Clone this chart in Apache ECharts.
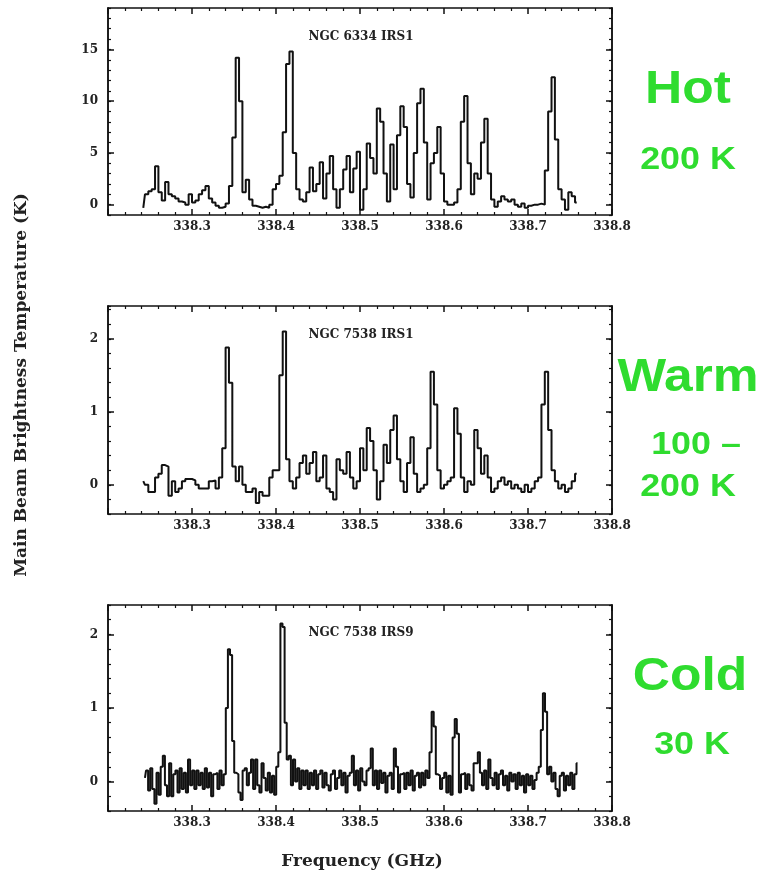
<!DOCTYPE html>
<html><head><meta charset="utf-8">
<script src="https://cdn.jsdelivr.net/npm/echarts@6/dist/echarts.min.js"></script>
<style>html,body{margin:0;padding:0;background:#fff}#c{width:776px;height:885px}</style>
</head><body><div id="c"></div>
<script>
// ---------- DATA ----------
const xTickLabels = ['338.3', '338.4', '338.5', '338.6', '338.7', '338.8'];
const panelNames = ['NGC 6334 IRS1', 'NGC 7538 IRS1', 'NGC 7538 IRS9'];
const hotYTicks = [0, 5, 10, 15];
const warmYTicks = [0, 1, 2];
const coldYTicks = [0, 1, 2];

// channel grid (GHz): first channel and channel width
const hotStart = 338.242, hotWidth = 0.004;
const warmStart = 338.242, warmWidth = 0.004;
const coldStart = 338.244, coldWidth = 0.0025;

// NGC 6334 IRS1 (K)
const hotValues = [
  -0.3, 1.0, 1.3, 1.5, 3.7, 1.2, 0.4, 2.2, 1.0, 0.8,
  0.6, 0.3, 0.2, 0.0, 1.0, 0.2, 0.4, 1.0, 1.4, 1.8,
  0.6, 0.2, -0.1, -0.3, -0.2, 0.1, 1.8, 6.5, 14.2, 10.0,
  1.2, 2.4, 0.5, -0.1, -0.2, -0.3, -0.2, -0.3, 0.0, 1.5,
  2.0, 2.8, 7.0, 13.6, 14.8, 5.0, 1.5, 0.5, 0.3, 1.2,
  3.6, 1.3, 2.0, 4.1, 0.6, 3.0, 4.7, 1.5, -0.3, 1.5,
  3.4, 4.7, 1.2, 3.5, 5.1, -0.5, 1.5, 5.9, 4.5, 3.0,
  9.3, 8.0, 3.0, 0.3, 5.8, 1.5, 6.7, 9.5, 7.5, 2.0,
  0.7, 5.0, 9.8, 11.2, 6.0, 0.5, 4.0, 5.0, 7.5, 3.0,
  0.3, 0.0, 0.0, 0.2, 1.5, 8.0, 10.5, 4.0, 1.0, 3.0,
  2.5, 6.0, 8.3, 3.0, 0.5, -0.2, 0.3, 0.8, 0.5, 0.3,
  0.5, 0.0, -0.2, 0.1, -0.3, -0.1, 0.0, 0.0, 0.1, 0.0,
  3.3, 9.0, 12.3, 6.3, 1.5, 0.5, -0.5, 1.2, 0.8, 0.2
];

// NGC 7538 IRS1 (K)
const warmValues = [
  0.05, 0.0, -0.1, -0.1, 0.1, 0.15, 0.27, 0.25, -0.15, 0.05,
  -0.1, -0.05, 0.05, 0.08, 0.08, 0.06, 0.0, -0.05, -0.05, -0.05,
  0.05, 0.06, -0.05, 0.1, 0.5, 1.88, 1.4, 0.25, 0.05, 0.25,
  0.0, -0.1, -0.1, -0.05, -0.25, -0.1, -0.15, -0.15, 0.1, 0.2,
  0.2, 1.5, 2.1, 0.35, 0.05, -0.05, 0.1, 0.3, 0.4, 0.15,
  0.3, 0.45, 0.05, 0.1, 0.4, -0.05, -0.1, -0.2, 0.35, 0.2,
  0.15, 0.45, 0.1, -0.05, 0.05, 0.5, 0.2, 0.78, 0.6, 0.2,
  -0.2, 0.05, 0.55, 0.3, 0.75, 0.95, 0.35, 0.05, -0.1, 0.3,
  0.65, 0.15, -0.1, -0.05, 0.0, 0.5, 1.55, 1.1, 0.2, -0.05,
  0.0, 0.05, 0.1, 1.05, 0.7, 0.1, -0.1, 0.05, 0.0, 0.75,
  0.5, 0.15, 0.4, 0.1, -0.1, -0.05, 0.05, 0.1, 0.0, 0.05,
  -0.05, 0.0, -0.05, -0.1, 0.0, -0.1, -0.05, 0.05, 0.1, 1.1,
  1.55, 0.75, 0.2, 0.05, -0.05, 0.0, -0.1, -0.05, 0.05, 0.15
];

// NGC 7538 IRS9 (K)
const coldValues = [
  0.05, 0.15, -0.12, 0.18, -0.1, -0.3, 0.12, -0.18, 0.2, 0.35,
  -0.05, -0.2, 0.25, -0.2, 0.1, 0.15, -0.15, 0.18, -0.1, 0.12,
  -0.15, 0.3, -0.05, 0.15, -0.1, 0.15, -0.05, 0.12, -0.1, 0.18,
  -0.08, 0.12, -0.2, 0.1, 0.12, -0.1, 0.15, -0.05, 0.1,
  1.0, 1.8, 1.72, 0.55, 0.12,
  0.1, -0.15, -0.25, 0.15, 0.18, -0.05,
  0.12, 0.3, -0.1, 0.3, -0.05, -0.15, 0.25, 0.05, -0.12, 0.12,
  -0.15, 0.08, -0.18, 0.2, 0.4,
  2.15, 2.1, 0.8, 0.3,
  0.35, -0.05, 0.3, 0.0, 0.18, -0.1, 0.15, -0.05, 0.15, -0.1, 0.12,
  -0.05, 0.15, -0.1, 0.1, 0.15, -0.08, 0.12, -0.05, -0.12, 0.1,
  0.15, -0.1, 0.05, 0.15, -0.05, 0.12, -0.15, 0.08, 0.12,
  0.35,
  -0.05, 0.15, -0.12, 0.18, 0.0, -0.05, 0.15, 0.18,
  0.45,
  -0.05, 0.15, -0.1, 0.15, -0.02, 0.12, -0.15, 0.08, 0.12, -0.1,
  0.45,
  0.2, -0.15, 0.1, 0.12, -0.1, 0.12, -0.05, 0.15, -0.12, 0.08, 0.12, -0.08, 0.12, -0.05, 0.15, 0.05,
  0.4, 0.95, 0.75, 0.1,
  0.08, -0.1, 0.05, 0.12, -0.15, 0.08, -0.18,
  0.6, 0.85, 0.65, -0.15,
  0.1, 0.12, -0.1, 0.1, -0.05, -0.12, 0.25,
  0.25, 0.4,
  0.12, -0.05, 0.15, -0.1, 0.3, 0.05, -0.05, 0.12, -0.1, 0.1,
  0.15, -0.05, 0.08, -0.12, 0.12, 0.0, 0.1, -0.1, 0.12, -0.05,
  0.08, -0.15, 0.1, -0.05, 0.08, -0.1, 0.02, 0.12,
  0.2, 0.7, 1.2, 0.95, 0.1,
  0.2, 0.0, 0.12, -0.1, -0.2, 0.08, 0.12, -0.12, 0.08, -0.05, 0.12, -0.1, 0.1, 0.25
];

// ---------- LAYOUT ----------
const panels = [
  { top: 8,   height: 207, ymin: -1,   ymax: 19,   minor: 1,   major: hotYTicks,  start: hotStart,  width: hotWidth,  values: hotValues },
  { top: 306, height: 208, ymin: -0.4, ymax: 2.45, minor: 0.2, major: warmYTicks, start: warmStart, width: warmWidth, values: warmValues },
  { top: 605, height: 206, ymin: -0.4, ymax: 2.4,  minor: 0.2, major: coldYTicks, start: coldStart, width: coldWidth, values: coldValues }
];

const labelFont = { fontFamily: 'DejaVu Serif', fontWeight: 'bold', fontSize: 12, color: '#222' };
const lineStyle = { color: '#111', width: 1.5 };

const grid = [], xAxis = [], yAxis = [], series = [];
panels.forEach((p, k) => {
  grid.push({ left: 108, width: 504, top: p.top, height: p.height });
  const xBase = {
    type: 'value', gridIndex: k, min: 338.2, max: 338.8, interval: 0.1,
    splitLine: { show: false },
    axisLine: { show: true, onZero: false, lineStyle: lineStyle },
    axisTick: { show: true, inside: true, length: 6, lineStyle: lineStyle },
    minorTick: { show: true, splitNumber: 5, length: 3, lineStyle: { color: '#111', width: 1.2 } }
  };
  xAxis.push(Object.assign({}, xBase, {
    position: 'bottom',
    axisLabel: Object.assign({}, labelFont, {
      margin: 6, showMinLabel: false,
      formatter: v => { const s = v.toFixed(1); return xTickLabels.includes(s) ? s : ''; }
    })
  }));
  xAxis.push(Object.assign({}, xBase, { position: 'top', axisLabel: { show: false } }));
  const yMinor = {
    type: 'value', gridIndex: k, min: p.ymin, max: p.ymax, interval: p.minor,
    splitLine: { show: false },
    axisLine: { show: true, onZero: false, lineStyle: lineStyle },
    axisTick: { show: true, inside: true, length: 3, lineStyle: { color: '#111', width: 1.2 } },
    axisLabel: { show: false }
  };
  const yMajor = {
    type: 'value', gridIndex: k, min: p.ymin, max: p.ymax,
    splitLine: { show: false },
    axisLine: { show: true, onZero: false, lineStyle: lineStyle },
    axisTick: { show: true, inside: true, length: 6, lineStyle: lineStyle, customValues: p.major }
  };
  const base = yAxis.length;
  yAxis.push(Object.assign({}, yMinor, { position: 'left' }));
  yAxis.push(Object.assign({}, yMajor, { position: 'left',
    axisLabel: Object.assign({}, labelFont, { margin: 10, customValues: p.major, formatter: v => String(Math.round(v)) }) }));
  yAxis.push(Object.assign({}, yMinor, { position: 'right' }));
  yAxis.push(Object.assign({}, yMajor, { position: 'right', axisLabel: { show: false } }));
  series.push({
    type: 'line', xAxisIndex: 2 * k, yAxisIndex: base,
    step: 'middle', showSymbol: false, symbol: 'none',
    lineStyle: { color: '#111', width: 2 },
    data: p.values.map((v, i) => [p.start + i * p.width, v])
  });
});

const green = '#2fdc2f';
const txt = (text, x, y, font, fill, extra) => Object.assign({
  type: 'text', x: x, y: y, z: 10,
  style: { text: text, font: font, fill: fill, align: 'center', verticalAlign: 'middle' }
}, extra || {});
const wide = { scaleX: 1.12 };

const graphic = [
  txt(panelNames[0], 361, 37, 'bold 12px "DejaVu Serif"', '#222'),
  txt(panelNames[1], 361, 335, 'bold 12px "DejaVu Serif"', '#222'),
  txt(panelNames[2], 361, 633, 'bold 12px "DejaVu Serif"', '#222'),
  txt('Frequency (GHz)', 362, 862, 'bold 17px "DejaVu Serif"', '#222'),
  txt('Main Beam Brightness Temperature (K)', 22, 385, 'bold 17px "DejaVu Serif"', '#222', { rotation: Math.PI / 2 }),
  txt('Hot', 688, 90, 'bold 46px "Liberation Sans"', green, wide),
  txt('200 K', 688, 160, 'bold 32px "Liberation Sans"', green, wide),
  txt('Warm', 688, 378, 'bold 46px "Liberation Sans"', green, wide),
  txt('100 \u2013', 696, 445, 'bold 32px "Liberation Sans"', green, wide),
  txt('200 K', 688, 487, 'bold 32px "Liberation Sans"', green, wide),
  txt('Cold', 690, 677, 'bold 46px "Liberation Sans"', green, wide),
  txt('30 K', 692, 745, 'bold 32px "Liberation Sans"', green, wide)
];

const chart = echarts.init(document.getElementById('c'), null, { renderer: 'canvas' });
chart.setOption({ animation: false, backgroundColor: '#fff', grid, xAxis, yAxis, series, graphic });
</script>
</body></html>
